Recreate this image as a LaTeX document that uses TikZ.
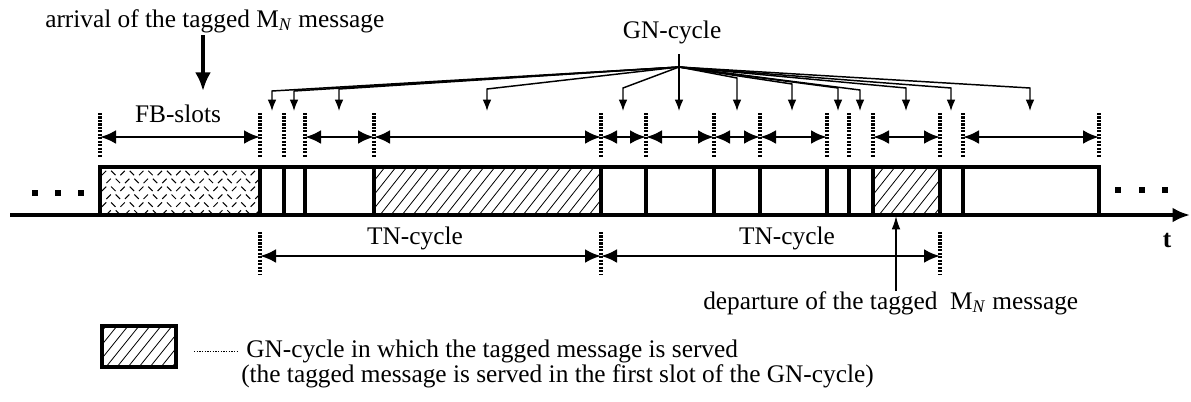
\documentclass[tikz,border=0pt]{standalone}
\usepackage{fontspec}
\setmainfont{Liberation Serif}
\usetikzlibrary{arrows.meta}
\begin{document}
\begin{tikzpicture}[x=0.75pt,y=-0.75pt,
  lbl/.style={font=\fontsize{19}{21}\selectfont, inner sep=0pt},
  wall/.style={line width=2.6pt},
  axisline/.style={line width=2.5pt, -{Latex[length=13pt,width=11pt]}},
  dblarrow/.style={line width=2.2pt, {Latex[length=12pt,width=10.5pt]}-{Latex[length=12pt,width=10.5pt]}},
  vdots/.style={line width=2.6pt, dash pattern=on 1.6pt off 1pt},
  gnline/.style={line width=1.1pt},
  gnarrow/.style={line width=1.1pt, -{Latex[length=8.5pt,width=6.5pt]}},
  bigarrow/.style={line width=3.6pt, -{Latex[length=14pt,width=12pt]}},
  thinarrow/.style={line width=1pt, -{Latex[length=10pt,width=6.5pt]}},
  hatchline/.style={line width=0.6pt},
  dotsq/.style={fill=black, minimum size=3.8pt, inner sep=0pt},
]
\useasboundingbox (0,0) rectangle (1191,401);

% ---------- hatching inside the frame ----------
\begin{scope}
  \clip (374,167) rectangle (601,215);
  \foreach \k in {0,...,25} \draw[hatchline] (336+11*\k,215) -- ++(38,-48);
\end{scope}
\begin{scope}
  \clip (873,167) rectangle (940,215);
  \foreach \k in {0,...,10} \draw[hatchline] (835+11*\k,215) -- ++(38,-48);
\end{scope}
\begin{scope}
  \clip (100,167) rectangle (260,215);
  \foreach \i in {0,...,17}{\foreach \j in {0,...,5}{
    \pgfmathsetmacro\xx{104+9.3*\i+4.6*mod(\j,2)}
    \pgfmathsetmacro\yy{173+7.9*\j}
    \pgfmathsetmacro\ss{ifthenelse(mod(\i,2)==0,1,-1)}
    \draw[line width=0.75pt] (\xx-2.2,\yy+2.2*\ss) -- (\xx+2.2,\yy-2.2*\ss);
  }}
\end{scope}

% ---------- frame and slot walls ----------
\draw[wall] (100,215) -- (100,167) -- (1099,167) -- (1099,215);
\foreach \x in {260,284,305,374,601,646,714,760,827,849,873,940,963}
  \draw[wall] (\x,167) -- (\x,215);

% ---------- time axis ----------
\coordinate (ax0) at (10,215);
\coordinate (ax1) at (1190,215);
\draw[axisline] (ax0) -- (ax1);
\node[lbl, font=\fontsize{19}{21}\selectfont\bfseries, anchor=base] (tlab) at (1167,247) {t};

% ellipsis
\foreach \x [count=\n] in {35,58,81} \node[dotsq] (dl\n) at (\x,193) {};
\foreach \x [count=\n] in {1118,1142,1165} \node[dotsq] (dr\n) at (\x,190) {};

% ---------- upper dotted markers and GN arrows ----------
\foreach \x [count=\n] in {100,260,284,305,374,601,646,714,760,827,849,873,940,963,1099}{
  \coordinate (ut\n) at (\x,113);
  \coordinate (ub\n) at (\x,158);
  \coordinate (u\n) at (\x,137);
  \draw[vdots] (ut\n) -- (ub\n);
}
\foreach \a/\b in {1/2,4/5,5/6,6/7,7/8,8/9,9/10,12/13,14/15}
  \draw[dblarrow] (u\a) -- (u\b);

\node[lbl, anchor=base] (fb) at (178,122) {FB-slots};

% GN-cycle fan
\node[lbl, anchor=base] (gn) at (672,38) {GN-cycle};
\coordinate (gntop) at (679,54);
\coordinate (apex) at (679,67);
\draw[gnline] (gntop) -- (apex);
\foreach \x/\yc [count=\n] in {272/91,294/91,339/89,487/89,623/88,737/78,792/84,838/88,860/90,906/88,951/88,1030/88}{
  \coordinate (g\n) at (\x,111);
  \draw[gnarrow] (apex) -- (\x,\yc) -- (g\n);
}
\coordinate (gmid) at (679,111);
\draw[gnarrow] (apex) -- (gmid);

% ---------- arrival ----------
\node[lbl, anchor=base west] (arr) at (45,27) {arrival of the tagged M\textsubscript{\textit{N}} message};
\coordinate (arrs) at (203,35);
\coordinate (arre) at (203,91);
\draw[bigarrow] (arrs) -- (arre);

% ---------- TN cycles ----------
\foreach \x [count=\n] in {260,601,940}{
  \coordinate (dt\n) at (\x,232);
  \coordinate (db\n) at (\x,275);
  \coordinate (d\n) at (\x,256);
  \draw[vdots] (dt\n) -- (db\n);
}
\draw[dblarrow] (d1) -- (d2);
\draw[dblarrow] (d2) -- (d3);
\node[lbl, anchor=base] (tn1) at (415,244) {TN-cycle};
\node[lbl, anchor=base] (tn2) at (787,244) {TN-cycle};

% ---------- departure ----------
\node[lbl, anchor=base west] (dep) at (703,309) {departure of the tagged \ M\textsubscript{\textit{N}} message};
\coordinate (deps) at (896,291);
\coordinate (depe) at (896,216);
\draw[thinarrow] (deps) -- (depe);

% ---------- legend ----------
\begin{scope}
  \clip (102,326) rectangle (176,367);
  \foreach \k in {0,...,11} \draw[hatchline] (62+11*\k,367) -- ++(33,-41);
\end{scope}
\draw[wall] (102,326) rectangle (176,367);
\coordinate (ld0) at (194,351);
\coordinate (ld1) at (237,351);
\draw[line width=0.6pt, dash pattern=on 1pt off 1pt] (ld0) -- (ld1);
\node[lbl, anchor=base west] (leg1) at (246,357) {GN-cycle in which the tagged message is served};
\node[lbl, anchor=base west] (leg2) at (241,382) {(the tagged message is served in the first slot of the GN-cycle)};
\end{tikzpicture}
\end{document}
